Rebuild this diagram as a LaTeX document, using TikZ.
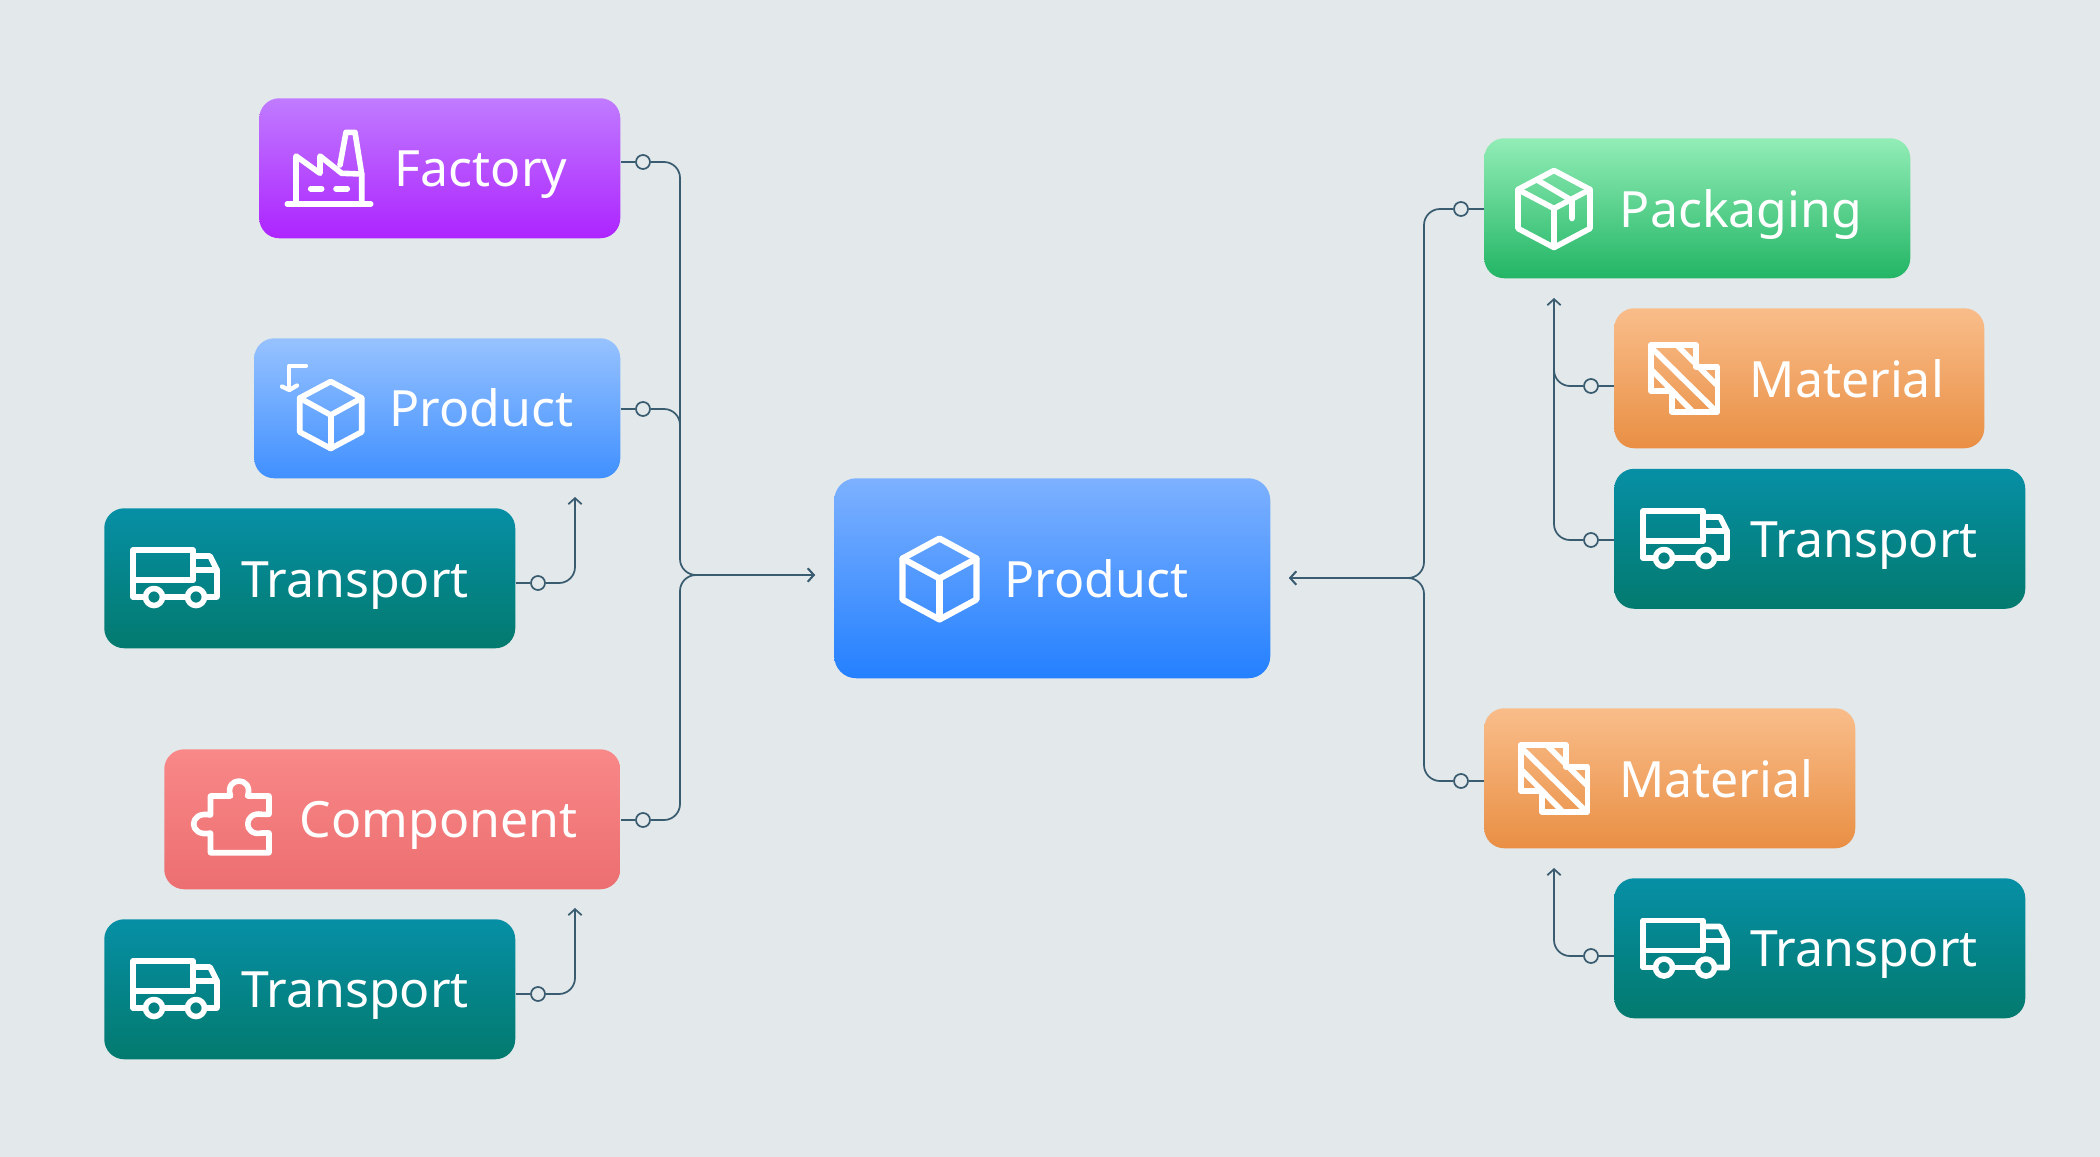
\documentclass[tikz,border=0pt]{standalone}
\usepackage{fontspec}
\setmainfont{Noto Sans}
\usetikzlibrary{arrows.meta,calc}
\definecolor{bgc}{HTML}{E3E8EA}
\definecolor{linkc}{HTML}{3A5C70}
\definecolor{facT}{HTML}{C07BFF}\definecolor{facB}{HTML}{AD24FF}
\definecolor{psT}{HTML}{97C2FF}\definecolor{psB}{HTML}{4090FF}
\definecolor{trT}{HTML}{068FA5}\definecolor{trB}{HTML}{037A6E}
\definecolor{coT}{HTML}{F98888}\definecolor{coB}{HTML}{EC6E70}
\definecolor{ceT}{HTML}{7DB1FF}\definecolor{ceB}{HTML}{2480FF}
\definecolor{paT}{HTML}{92EDB6}\definecolor{paB}{HTML}{22B565}
\definecolor{maT}{HTML}{F9BD8A}\definecolor{maB}{HTML}{E98F44}
\tikzset{
  boxn/.style n args={4}{anchor=north west,inner sep=0pt,rounded corners=15pt,
    minimum width=#1*0.75pt,minimum height=#2*0.75pt,top color=#3,bottom color=#4,draw=none},
  labl/.style={anchor=base west,inner sep=0pt,text=white,font=\fontsize{37.5pt}{45pt}\selectfont},
  link/.style={draw=linkc,line width=1.3pt,rounded corners=12pt},
  tipped/.style={-{Straight Barb[length=4.5pt,width=10pt,line width=1.3pt]}},
  dot/.style={circle,draw=linkc,line width=1.3pt,fill=bgc,inner sep=0pt,minimum size=10.5pt},
  ico/.style={draw=white,line width=4.2pt,line join=round,line cap=round},
  truck/.pic={
    \draw[ico] (60,30) -- (60,0) -- (0,0) -- (0,47) -- (10,47);
    \draw[ico] (0,30) -- (60,30);
    \draw[ico] (60,6) -- (77,6) -- (84,20) -- (84,47) -- (74,47);
    \draw[ico] (60,20) -- (84,20);
    \draw[ico] (30,47) -- (54,47);
    \draw[ico] (21,47) circle (8.5);
    \draw[ico] (63,47) circle (8.5);
  },
  cubeicon/.pic={
    \draw[ico] (0,-33.5) -- (31,-17) -- (31,17) -- (0,33.5) -- (-31,17) -- (-31,-17) -- cycle;
    \draw[ico] (-31,-17) -- (0,0) -- (31,-17);
    \draw[ico] (0,0) -- (0,33.5);
  },
  boxicon/.pic={
    \draw[ico] (0,-38) -- (36,-19) -- (36,20) -- (0,39) -- (-36,20) -- (-36,-19) -- cycle;
    \draw[ico] (-36,-19) -- (0,0) -- (36,-19);
    \draw[ico] (0,0) -- (0,39);
  },
  bigcube/.pic={
    \draw[ico,line width=4.6pt] (0,-40) -- (37,-20) -- (37,21) -- (0,41) -- (-37,21) -- (-37,-20) -- cycle;
    \draw[ico,line width=4.6pt] (-37,-20) -- (0,0) -- (37,-20);
    \draw[ico,line width=4.6pt] (0,0) -- (0,41);
  },
  tapeicon/.pic={
    \draw[ico] (-16,-28) -- (18,-8) -- (18,10);
  },
  matericon/.pic={
    \draw[ico,line join=round] (0,0) -- (45.3,0) -- (45.3,21.7) -- (66.6,21.7) -- (66.6,66.7) -- (21,66.7) -- (21,45.7) -- (0,45.7) -- cycle;
    \draw[ico,line cap=butt] (1,3) -- (64,65);
    \draw[ico,line cap=butt] (26,0) -- (66,40);
    \draw[ico,line cap=butt] (1,25) -- (42,66.7);
  },
  facicon/.pic={
    \draw[ico] (287.3,204) -- (370.7,204);
    \draw[ico] (296,204) -- (296,156) -- (320,173.3) -- (320,156) -- (341.7,173.3) -- (361.7,174) -- (361.7,204);
    \draw[ico] (340,165) -- (346,132.3) -- (355,132.3) -- (361.7,174);
    \draw[ico] (310.7,188.7) -- (321.7,188.7);
    \draw[ico] (336,188.7) -- (347.3,188.7);
  },
  puzzicon/.pic={
    \draw[ico] (210.5,796) -- (230.5,796) .. controls (224,776) and (254,776) .. (247.7,796) -- (269,796) -- (269,814.3) -- (262,814.3)
      .. controls (243,811) and (243,837) .. (262,833) -- (269,833) -- (269,852.7) -- (210.5,852.7) -- (210.5,833)
      .. controls (188,838) and (188,810) .. (210.5,815) -- cycle;
  },
}
\begin{document}
\begin{tikzpicture}[x=0.75pt,y=-0.75pt]
\useasboundingbox (0,0) rectangle (2100,1157);
\fill[bgc] (0,0) rectangle (2100,1157);

% boxes
\node[boxn={361}{140}{facT}{facB}] (factory) at (259,98) {};
\node[boxn={366}{140}{psT}{psB}] (prodsmall) at (254,338) {};
\node[boxn={411}{140}{trT}{trB}] (transA) at (104,508) {};
\node[boxn={456}{140}{coT}{coB}] (component) at (164,749) {};
\node[boxn={411}{140}{trT}{trB}] (transB) at (104,919) {};
\node[boxn={436}{200}{ceT}{ceB},rounded corners=16.5pt] (center) at (834,478) {};
\node[boxn={426}{140}{paT}{paB}] (packaging) at (1484,138) {};
\node[boxn={370}{140}{maT}{maB}] (materA) at (1614,308) {};
\node[boxn={411}{140}{trT}{trB}] (transC) at (1614,468.5) {};
\node[boxn={371}{140}{maT}{maB}] (materB) at (1484,708) {};
\node[boxn={411}{140}{trT}{trB}] (transD) at (1614,878) {};

% labels
\node[labl] (lfactory) at (394.5,186.5) {Factory};
\node[labl] (lprodsmall) at (389,426.5) {Product};
\node[labl] (ltransA) at (241,597) {Transport};
\node[labl] (lcomponent) at (299.5,837.5) {Component};
\node[labl] (ltransB) at (241,1007.5) {Transport};
\node[labl] (lcenter) at (1004,597.5) {Product};
\node[labl] (lpackaging) at (1619.5,227) {Packaging};
\node[labl] (lmaterA) at (1749.5,397) {Material};
\node[labl] (ltransC) at (1750,557) {Transport};
\node[labl] (lmaterB) at (1619,797) {Material};
\node[labl] (ltransD) at (1750,966.5) {Transport};

% icons
\pic at (0,0) {facicon};
\pic at (330.7,415) {cubeicon};
\draw[ico,line width=3.2pt] (306,365.7) -- (289.3,365.7) -- (289.3,389);
\draw[ico,line width=3.2pt] (282,386.5) -- (289.3,390) -- (297,385.5);
\pic at (133,550) {truck};
\pic at (133,961) {truck};
\pic at (0,0) {puzzicon};
\pic at (939.5,578.5) {bigcube};
\pic at (1554,208.5) {boxicon};
\pic at (1554,208.5) {tapeicon};
\pic at (1650.7,345) {matericon};
\pic at (1643,511) {truck};
\pic at (1520.7,745) {matericon};
\pic at (1643,920.5) {truck};

% connector dots
\node[dot] (dFac) at (643,162) {};
\node[dot] (dProd) at (643,409) {};
\node[dot] (dTA) at (538,583) {};
\node[dot] (dComp) at (643,820) {};
\node[dot] (dTB) at (538,994) {};
\node[dot] (dPack) at (1461,209) {};
\node[dot] (dMA) at (1591,386) {};
\node[dot] (dTC) at (1591,540) {};
\node[dot] (dMB) at (1461,781) {};
\node[dot] (dTD) at (1591,956) {};

% free ends
\coordinate (tipL) at (815,575);
\coordinate (tipR) at (1289,578);
\coordinate (tipTA) at (575,497);
\coordinate (tipTB) at (575,908);
\coordinate (tipPk) at (1554,298);
\coordinate (tipMB) at (1554,868);

% connectors
\draw[link] (factory.east |- dFac) -- (dFac);
\draw[link] (prodsmall.east |- dProd) -- (dProd);
\draw[link] (component.east |- dComp) -- (dComp);
\draw[link] (transA.east |- dTA) -- (dTA);
\draw[link] (transB.east |- dTB) -- (dTB);
\draw[link] (packaging.west |- dPack) -- (dPack);
\draw[link] (materA.west |- dMA) -- (dMA);
\draw[link] (transC.west |- dTC) -- (dTC);
\draw[link] (materB.west |- dMB) -- (dMB);
\draw[link] (transD.west |- dTD) -- (dTD);

\draw[link,tipped] (dFac.east) -- (680,162) -- (680,575) -- (tipL);
\draw[link,tipped] (dComp.east) -- (680,820) -- (680,575) -- (tipL);
\draw[link] (dProd.east) -- (680,409) -- (680,440);
\draw[link,tipped] (dTA.east) -- (575,583) -- (tipTA);
\draw[link,tipped] (dTB.east) -- (575,994) -- (tipTB);
\draw[link,tipped] (dPack.west) -- (1424,209) -- (1424,578) -- (tipR);
\draw[link,tipped] (dMB.west) -- (1424,781) -- (1424,578) -- (tipR);
\draw[link,tipped] (dTC.west) -- (1554,540) -- (tipPk);
\draw[link] (dMA.west) -- (1554,386) -- (1554,360);
\draw[link,tipped] (dTD.west) -- (1554,956) -- (tipMB);
\end{tikzpicture}
\end{document}
